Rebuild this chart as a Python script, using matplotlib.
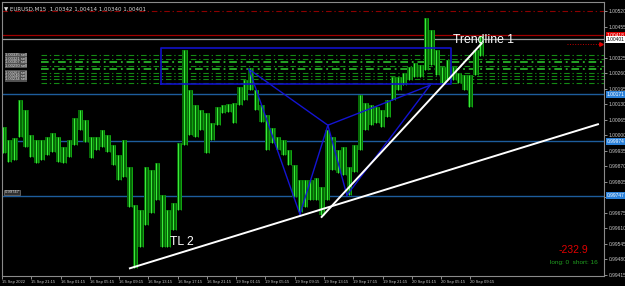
import numpy as np
import matplotlib.pyplot as plt
import matplotlib.transforms as mtransforms

plt.rcParams['font.family'] = ['Liberation Sans', 'DejaVu Sans']

#price data (each point = 3 M15 bars)
high = [1.00033, 0.99979, 0.99987, 1.00147, 1.00105, 1.00000, 0.99979, 0.99979, 0.99992, 1.00008,
        0.99992, 0.99950, 0.99979, 1.00071, 1.00105, 1.00063, 0.99992, 0.99992, 1.00021, 1.00000,
        0.99958, 0.99916, 0.99979, 0.99866, 0.99707, 0.99686, 0.99866, 0.99853, 0.99883, 0.99749,
        0.99686, 0.99715, 0.99967, 1.00356, 1.00188, 1.00126, 1.00105, 1.00092, 1.00050, 1.00117,
        1.00126, 1.00130, 1.00134, 1.00201, 1.00230, 1.00280, 1.00188, 1.00126, 1.00084, 1.00029,
        0.99992, 0.99979, 0.99937, 0.99874, 0.99812, 0.99812, 0.99812, 0.99820, 0.99782, 1.00021,
        0.99992, 0.99937, 0.99950, 0.99866, 0.99958, 1.00167, 1.00134, 1.00126, 1.00117, 1.00105,
        1.00147, 1.00243, 1.00243, 1.00260, 1.00285, 1.00301, 1.00293, 1.00490, 1.00440, 1.00356,
        1.00285, 1.00314, 1.00285, 1.00260, 1.00251, 1.00251, 1.00356, 1.00414]
low = [0.99925, 0.99887, 0.99895, 0.99992, 0.99950, 0.99908, 0.99883, 0.99895, 0.99916, 0.99929,
       0.99887, 0.99883, 0.99908, 0.99958, 1.00021, 0.99971, 0.99904, 0.99937, 0.99950, 0.99929,
       0.99874, 0.99812, 0.99824, 0.99699, 0.99443, 0.99531, 0.99623, 0.99673, 0.99728, 0.99531,
       0.99531, 0.99602, 0.99686, 0.99958, 1.00000, 0.99992, 1.00021, 0.99925, 0.99979, 1.00042,
       1.00092, 1.00096, 1.00050, 1.00126, 1.00147, 1.00188, 1.00105, 1.00054, 0.99937, 0.99967,
       0.99937, 0.99916, 0.99874, 0.99740, 0.99678, 0.99699, 0.99728, 0.99728, 0.99665, 0.99728,
       0.99853, 0.99841, 0.99833, 0.99749, 0.99845, 0.99937, 1.00021, 1.00042, 1.00050, 1.00033,
       1.00075, 1.00147, 1.00188, 1.00209, 1.00230, 1.00243, 1.00243, 1.00272, 1.00293, 1.00251,
       1.00218, 1.00230, 1.00230, 1.00218, 1.00188, 1.00117, 1.00251, 1.00330]

#time axis labels (every 16 bars)
time_labels = ["15 Sep 2022", "15 Sep 21:15", "16 Sep 01:15", "16 Sep 05:15", "16 Sep 09:15",
               "16 Sep 13:15", "16 Sep 17:15", "16 Sep 21:15", "19 Sep 01:15", "19 Sep 05:15",
               "19 Sep 09:15", "19 Sep 13:15", "19 Sep 17:15", "19 Sep 21:15", "20 Sep 01:15",
               "20 Sep 05:15", "20 Sep 09:15"]
price_ticks = [1.00520 - 0.00065 * k for k in range(18)]

#objects
green_levels = [1.00335, 1.00321, 1.00307, 1.00290, 1.00276, 1.00262, 1.00248, 1.00234, 1.00217]
green_bright = [False, False, True, False, True, False, False, False, False]
blue_levels = [1.00171, 0.99974, 0.99747]
red_dashdot = 1.00520
red_level = 1.00418
bid_level = 1.00401
pattern_x = [135.0, 162.8, 178.1, 188.5, 233.9]   # X A B C D (bar index)
pattern_y = [1.00276, 0.99669, 1.00042, 0.99749, 1.00209]
box = (86.9, 245.4, 1.00213, 1.00364)
tl1 = ([174.7, 262.1], [0.99658, 1.00384])
tl2 = ([69.9, 325.7], [0.99443, 1.00046])

fig = plt.figure(figsize=(6.25, 2.86), dpi=100, facecolor='black')
ax = fig.add_axes([2/625, 10/286, 602/625, 274/286])
ax.set_facecolor('black')
ax.set_xlim(0, 329)
ax.set_ylim(0.994108, 1.005577)

##levels
for lv, br in zip(green_levels, green_bright):
    ax.axhline(lv, xmin=0.065, color='#2fd02f' if br else '#148a14', lw=1.1 if br else 0.8,
               ls=(0, (5, 2.5, 1.2, 2.5)), zorder=1)
ax.axhline(red_dashdot, color='#8c0000', lw=0.8, ls=(0, (5, 2.5, 1.2, 2.5)), zorder=1)
ax.axhline(red_level, color='#a00000', lw=0.9, zorder=1)
ax.axhline(bid_level, color='#9a9a9a', lw=0.9, zorder=1)
for lv in blue_levels:
    ax.axhline(lv, color='#1d5c9c', lw=1.0, zorder=1)
ax.plot([309, 328], [1.00383, 1.00383], color='#c00000', lw=0.7, ls=':', zorder=1)
ax.plot([327.5], [1.00383], marker='>', ms=2.5, color='#e00000', zorder=1)

##bars
xs = 1 + 3 * np.arange(len(high))
hi = np.array(high)
lo = np.array(low)
ax.bar(xs, hi - lo, bottom=lo, width=3.0, color='#066a06', zorder=2)
ax.vlines(xs - 0.6, lo, hi, color='#3cf03c', lw=0.7, zorder=3)
ax.vlines(xs + 0.9, lo, hi, color='#14b014', lw=0.6, zorder=3)

##objects
bx0, bx1, by0, by1 = box
ax.plot([bx0, bx1, bx1, bx0, bx0], [by0, by0, by1, by1, by0], color='#1010c8', lw=1.2, zorder=4)
X, A, B, C, D = list(zip(pattern_x, pattern_y))
for p, q in [(X, A), (A, B), (X, B), (B, C), (C, D), (B, D)]:
    ax.plot([p[0], q[0]], [p[1], q[1]], color='#1414d2', lw=1.0, zorder=4)
ax.plot(*tl1, color='white', lw=1.4, zorder=5)
ax.plot(*tl2, color='white', lw=1.4, zorder=5)
ax.text(246.4, 1.00398, "Trendline 1", color='white', fontsize=8.8, ha='left', va='center', zorder=6)
ax.text(92, 0.99555, "TL 2", color='white', fontsize=8.8, ha='left', va='center', zorder=6)
ax.text(0.925, 0.096, "-232.9", color='#e00000', fontsize=7.5, ha='left', va='center', transform=ax.transAxes)
ax.text(0.911, 0.048, "long: 0  short: 16", color='#20a020', fontsize=4.6, ha='left', va='center', transform=ax.transAxes)

##title and left labels
ax.text(0.004, 0.985, "\u25bc EURUSD,M15  1.00342 1.00414 1.00340 1.00401", color='#d8d8d8', fontsize=4,
        ha='left', va='top', transform=ax.transAxes, family=['DejaVu Sans'])
left_lbls = ["1.00335 sell", "1.00321 sell", "1.00307 sell", "1.00290 sell", "1.00262 sell", "1.00248 sell", "1.00234 sell"]
for lv, t in zip([1.00335, 1.00321, 1.00307, 1.00290, 1.00262, 1.00248, 1.00234], left_lbls):
    ax.text(1.5, lv, t, color='#e0e0e0', fontsize=3, ha='left', va='center', zorder=6,
            bbox=dict(boxstyle='square,pad=0.05', fc='#505050', ec='none'))
ax.text(1.5, 0.99762, "0.99747", color='#e0e0e0', fontsize=3, ha='left', va='center', zorder=6,
        bbox=dict(boxstyle='square,pad=0.1', fc='#303030', ec='#909090', lw=0.4))

##axes styling
for s in ax.spines.values():
    s.set_color('#8a8a8a')
    s.set_linewidth(0.8)
ax.yaxis.tick_right()
ax.set_yticks(price_ticks)
# 1.00390 sits under the bid/ask boxes in the terminal
ax.set_yticklabels(["" if abs(v - 1.00390) < 1e-6 else f"{v:.5f}" for v in price_ticks])
ax.set_xticks(16 * np.arange(len(time_labels)))
ax.set_xticklabels(time_labels, ha='left')
ax.tick_params(colors='#c8c8c8', labelsize=3.5, length=2, width=0.5, pad=1.2)
ax.tick_params(axis='x', labelsize=3.0)

trans = mtransforms.blended_transform_factory(ax.transAxes, ax.transData)
for lv, fc, tc in [(red_level, '#e00000', 'white'), (bid_level, 'white', 'black'),
                   (blue_levels[0], '#2a80d8', 'white'), (blue_levels[1], '#2a80d8', 'white'),
                   (blue_levels[2], '#2a80d8', 'white')]:
    ax.text(1.004, lv, f"{lv:.5f}", color=tc, fontsize=3.5, ha='left', va='center', transform=trans,
            clip_on=False, zorder=7, bbox=dict(boxstyle='square,pad=0.15', fc=fc, ec='none'))

fig.savefig("out.png", dpi=100, facecolor='black')
